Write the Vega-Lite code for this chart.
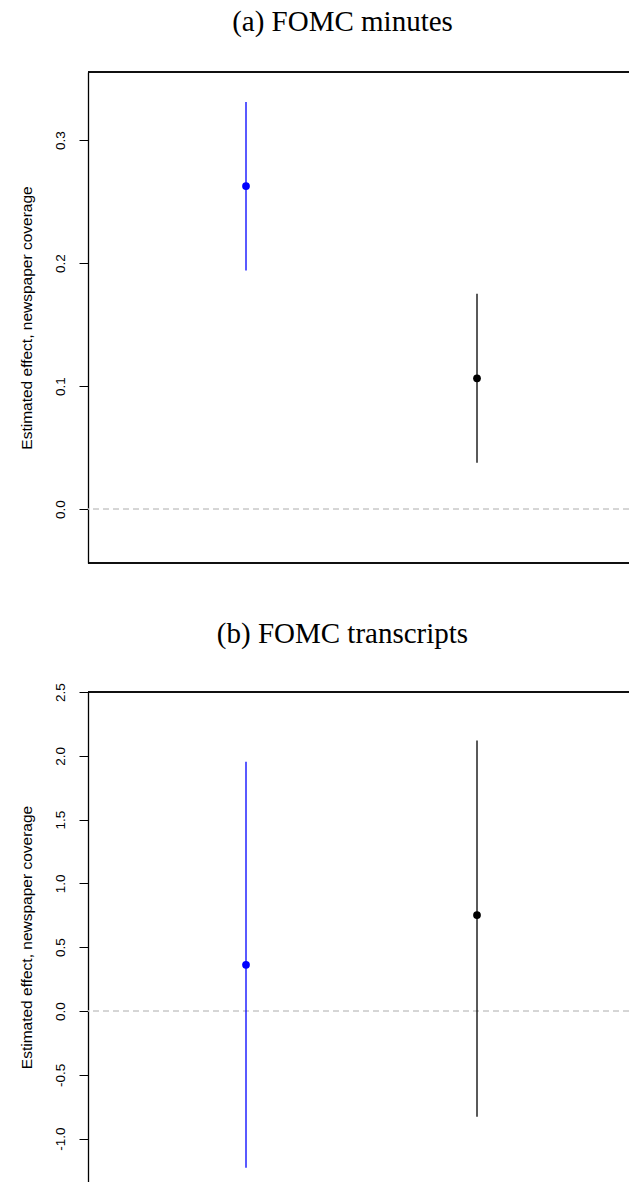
{
  "$schema": "https://vega.github.io/schema/vega-lite/v6.json",
  "padding": {"left": 19, "top": 8, "right": 0, "bottom": 0},
  "background": "white",
  "spacing": 55,
  "config": {
    "view": {"stroke": null},
    "title": {"font": "Liberation Serif", "fontSize": 29, "fontWeight": "normal", "color": "black", "anchor": "middle"},
    "axis": {
      "labelFont": "Liberation Sans", "labelFontSize": 13.5, "labelColor": "black",
      "titleFont": "Liberation Sans", "titleFontSize": 15.5, "titleFontWeight": "normal", "titleColor": "black",
      "domainColor": "black", "domainWidth": 1.3, "tickColor": "black", "tickWidth": 1, "tickSize": 9,
      "grid": false, "labelAngle": -90, "labelAlign": "center", "labelBaseline": "middle", "labelPadding": 19,
      "labelFlush": false, "labelOverlap": false, "labelBound": false,
      "titleX": -62, "titleBaseline": "middle", "titleAngle": -90
    }
  },
  "vconcat": [
    {
      "title": {"text": "(a) FOMC minutes", "offset": 34, "dx": -16},
      "width": 541,
      "height": 491,
      "data": {"values": [
        {"grp": "blue", "x": 1, "est": 0.2626, "lo": 0.194, "hi": 0.331},
        {"grp": "black", "x": 2, "est": 0.1063, "lo": 0.0376, "hi": 0.175}
      ]},
      "layer": [
        {
          "mark": {"type": "rule", "color": "#c8c8c8", "strokeDash": [6, 4], "strokeWidth": 1},
          "encoding": {"y": {"datum": 0, "type": "quantitative"}}
        },
        {
          "mark": {"type": "rule", "strokeWidth": 1.3},
          "encoding": {
            "x": {"field": "x", "type": "quantitative", "scale": {"domain": [0.316, 2.658], "nice": false, "zero": false}, "axis": null},
            "y": {"field": "lo", "type": "quantitative", "scale": {"domain": [-0.0439, 0.3553], "nice": false, "zero": false},
                  "axis": {"title": "Estimated effect, newspaper coverage", "values": [0, 0.1, 0.2, 0.3], "format": ".1f"}},
            "y2": {"field": "hi"},
            "color": {"field": "grp", "type": "nominal", "scale": {"domain": ["blue", "black"], "range": ["#0000ff", "#000000"]}, "legend": null}
          }
        },
        {
          "mark": {"type": "point", "filled": true, "size": 60, "opacity": 1},
          "encoding": {
            "x": {"field": "x", "type": "quantitative"},
            "y": {"field": "est", "type": "quantitative"},
            "color": {"field": "grp", "type": "nominal", "legend": null}
          }
        },
        {
          "mark": {"type": "rule", "color": "black", "strokeWidth": 1.3},
          "encoding": {"y": {"datum": 0.3553, "type": "quantitative"}}
        },
        {
          "mark": {"type": "rule", "color": "black", "strokeWidth": 1.3},
          "encoding": {"y": {"datum": -0.0439, "type": "quantitative"}}
        }
      ]
    },
    {
      "title": {"text": "(b) FOMC transcripts", "offset": 34, "dx": -16},
      "width": 541,
      "height": 490,
      "data": {"values": [
        {"grp": "blue", "x": 1, "est": 0.362, "lo": -1.2285, "hi": 1.9525},
        {"grp": "black", "x": 2, "est": 0.752, "lo": -0.828, "hi": 2.12}
      ]},
      "layer": [
        {
          "mark": {"type": "rule", "color": "#c8c8c8", "strokeDash": [6, 4], "strokeWidth": 1},
          "encoding": {"y": {"datum": 0, "type": "quantitative"}}
        },
        {
          "mark": {"type": "rule", "strokeWidth": 1.3},
          "encoding": {
            "x": {"field": "x", "type": "quantitative", "scale": {"domain": [0.316, 2.658], "nice": false, "zero": false}, "axis": null},
            "y": {"field": "lo", "type": "quantitative", "scale": {"domain": [-1.34, 2.5], "nice": false, "zero": false},
                  "axis": {"title": "Estimated effect, newspaper coverage", "values": [-1, -0.5, 0, 0.5, 1, 1.5, 2, 2.5], "format": ".1f", "labelExpr": "replace(datum.label, '\u2212', '-')"}},
            "y2": {"field": "hi"},
            "color": {"field": "grp", "type": "nominal", "scale": {"domain": ["blue", "black"], "range": ["#0000ff", "#000000"]}, "legend": null}
          }
        },
        {
          "mark": {"type": "point", "filled": true, "size": 60, "opacity": 1},
          "encoding": {
            "x": {"field": "x", "type": "quantitative"},
            "y": {"field": "est", "type": "quantitative"},
            "color": {"field": "grp", "type": "nominal", "legend": null}
          }
        },
        {
          "mark": {"type": "rule", "color": "black", "strokeWidth": 1.3},
          "encoding": {"y": {"datum": 2.5, "type": "quantitative"}}
        }
      ]
    }
  ]
}
